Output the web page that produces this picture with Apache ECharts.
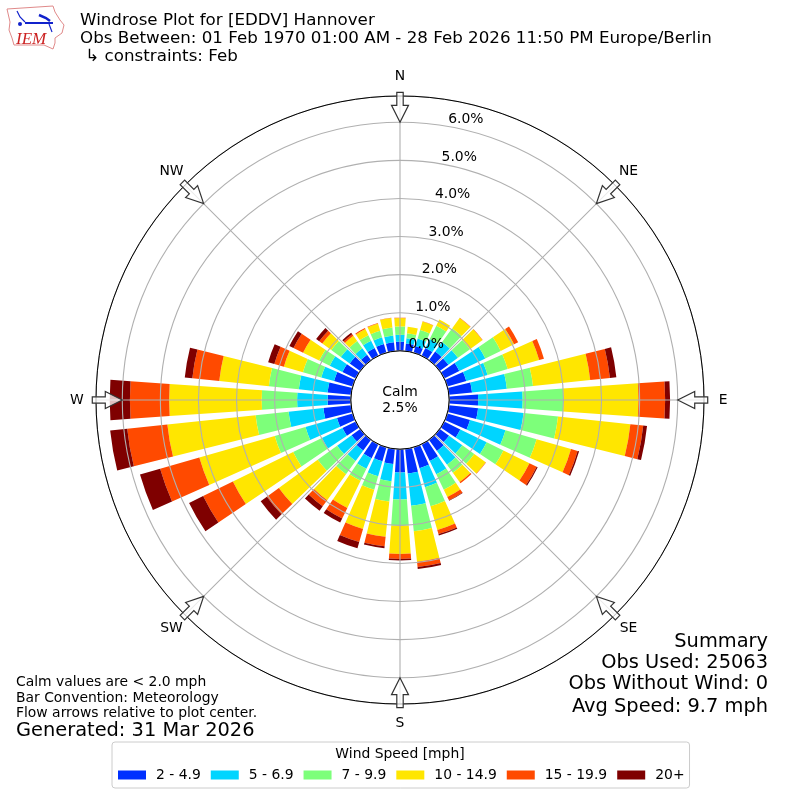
<!DOCTYPE html>
<html><head><meta charset="utf-8">
<style>html,body{margin:0;padding:0;background:#fff}#c{width:800px;height:800px}</style>
<script src="https://cdn.jsdelivr.net/npm/echarts@6/dist/echarts.min.js"></script>
</head><body><div id="c"></div>
<script>
const directions = ['0','10','20','30','40','50','60','70','80','90','100','110','120','130','140','150','160','170','180','190','200','210','220','230','240','250','260','270','280','290','300','310','320','330','340','350'];
const speedBins = ['2 - 4.9','5 - 6.9','7 - 9.9','10 - 14.9','15 - 19.9','20+'];
const binColors = ['#0030ff','#00d5ff','#7dff7a','#ffe600','#ff4a00','#7f0000'];
const bin1 = [.24,.20,.18,.23,.28,.28,.44,.52,.61,.76,.77,.62,.47,.30,.36,.49,.57,.65,.61,.40,.38,.41,.35,.28,.39,.43,.73,.61,.62,.51,.39,.34,.18,.23,.24,.23];
const bin2 = [.18,.14,.21,.26,.31,.31,.76,.58,.92,1.17,1.20,.97,.77,.43,.45,.39,.52,.85,.71,.45,.41,.31,.34,.47,.60,.86,.92,.80,.76,.35,.37,.29,.21,.21,.18,.18];
const bin3 = [.22,.13,.23,.39,.45,.39,.45,.55,.69,1.07,.91,.85,.49,.39,.26,.45,.52,.67,.69,.54,.37,.35,.43,.63,.84,.84,.87,.93,.79,.50,.31,.31,.23,.16,.18,.21];
const bin4 = [.22,.17,.23,.18,.33,.40,.39,.86,1.51,1.97,1.91,.94,.76,.37,.30,.21,.65,.81,.74,.93,1.07,.79,.84,1.26,1.76,2.06,2.33,2.43,1.31,.52,.47,.29,.17,.18,.20,.25];
const bin5 = [.01,0,.01,0,.01,.01,.12,.13,.52,.70,.34,.18,.21,.01,.04,.10,.11,.14,.13,.25,.36,.31,.20,.39,.87,1.07,1.06,1.03,.71,.26,.28,.10,.05,.03,.01,.01];
const bin6 = [0,0,0,0,0,0,0,0,.17,.13,.10,.04,.03,0,0,.01,.04,.05,.04,.05,.17,.12,.14,.20,.41,.55,.45,.53,.20,.17,.12,.10,.05,0,0,0];
const binValues = [bin1,bin2,bin3,bin4,bin5,bin6];
const compassNames = ['N','NE','E','SE','S','SW','W','NW'];
const arrowAngles = [0,45,90,135,180,225,270,315];
const radialTicks = [0,1,2,3,4,5,6];
const titleLines = ['Windrose Plot for [EDDV] Hannover','Obs Between: 01 Feb 1970 01:00 AM - 28 Feb 2026 11:50 PM Europe/Berlin',' \u21b3 constraints: Feb'];
const noteLines = ['Calm values are < 2.0 mph','Bar Convention: Meteorology','Flow arrows relative to plot center.'];
const generated = 'Generated: 31 Mar 2026';
const summaryLines = ['Summary','Obs Used: 25063','Obs Without Wind: 0','Avg Speed: 9.7 mph'];
const calmText = 'Calm\n2.5%';
const legendTitle = 'Wind Speed [mph]';

const FF = '"DejaVu Sans"';
const C = ['400','400'], RAD = [49.2, 304], RMAX = 6.69;
const txt = (x,y,s,size,align) => ({type:'text',x,y,z:20,style:{text:s,fontFamily:FF,fontSize:size,fill:'#000',align:align||'left',verticalAlign:'middle'}});
const graphics = [];
[21,39,57].forEach((y,i)=>graphics.push(txt(80,y,titleLines[i],16.7)));
[682,698,713].forEach((y,i)=>graphics.push(txt(16,y,noteLines[i],13.9)));
graphics.push(txt(16,731,generated,19.4));
[641.5,662.5,683.5,706.5].forEach((y,i)=>graphics.push(txt(768,y,summaryLines[i],19.4,'right')));
graphics.push(txt(400,392,calmText.split('\n')[0],13.9,'center'));
graphics.push(txt(400,408,calmText.split('\n')[1],13.9,'center'));
graphics.push(txt(400,754,legendTitle,13.9,'center'));
// IEM logo
const navy='#1122cc';
graphics.push({type:'polyline',z:20,shape:{points:[[7,9],[53,6],[55,12],[60,20],[64,25],[62,33],[55,38],[55,43],[53,49],[44,45],[14,45],[12,38],[9,30],[10,22],[7,9]]},style:{fill:'none',stroke:'#e08a8a',lineWidth:1}});
graphics.push({type:'polyline',z:20,shape:{points:[[25,23],[53,23]]},style:{fill:'none',stroke:navy,lineWidth:2}});
graphics.push({type:'polyline',z:20,shape:{points:[[39,15],[46,18],[50,21]]},style:{fill:'none',stroke:navy,lineWidth:2.5}});
graphics.push({type:'polyline',z:20,shape:{points:[[17,11],[20,17],[25,22]]},style:{fill:'none',stroke:navy,lineWidth:1.2}});
graphics.push({type:'polyline',z:20,shape:{points:[[49,24],[52,32]]},style:{fill:'none',stroke:navy,lineWidth:1.2}});
graphics.push({type:'circle',z:20,shape:{cx:20,cy:24,r:2},style:{fill:navy}});
graphics.push({type:'text',x:16,y:31,z:20,style:{text:'IEM',fontFamily:'"Liberation Serif"',fontStyle:'italic',fontSize:17,fill:'#cc2222'}});

const barSeries = speedBins.map((name,i)=>({
  type:'bar',name,coordinateSystem:'polar',polarIndex:0,stack:'rose',
  data:binValues[i],barWidth:'80%',z:2,itemStyle:{color:binColors[i]}
}));
const arrowSeries = {
  type:'custom',coordinateSystem:'polar',polarIndex:1,z:8,silent:true,clip:false,
  data:arrowAngles.map(a=>[6,a]),
  encode:{radius:0,angle:1},
  renderItem(params,api){
    const tip = api.coord([api.value(0),api.value(1)]);
    const ang = api.value(1)*Math.PI/180;
    const ux = Math.sin(ang), uy = -Math.cos(ang), px = -uy, py = ux;
    const L=30, H=17, hw=8.5, sw=3.2;
    const pt=(a,b)=>[tip[0]+ux*a+px*b, tip[1]+uy*a+py*b];
    return {type:'group',children:[
      {type:'polygon',shape:{points:[pt(0,0),pt(H,hw),pt(H,sw),pt(L,sw),pt(L,-sw),pt(H,-sw),pt(H,-hw)]},
        style:{fill:'rgba(255,255,255,0.75)',stroke:'#333',lineWidth:1.2}},
      {type:'text',x:pt(45.5,0)[0],y:pt(45.5,0)[1],
        style:{text:compassNames[params.dataIndex],fontFamily:FF,fontSize:13.9,fill:'#000',align:'center',verticalAlign:'middle'}}
    ]};
  }
};
const option = {
  animation:false,
  backgroundColor:'#fff',
  textStyle:{fontFamily:FF},
  polar:[{center:C,radius:RAD},{center:C,radius:RAD},{center:C,radius:RAD}],
  angleAxis:[
    {polarIndex:0,type:'category',data:directions,startAngle:95,boundaryGap:true,axisLine:{show:false},axisTick:{show:false},axisLabel:{show:false},splitLine:{show:false}},
    {polarIndex:1,type:'value',min:0,max:360,interval:45,startAngle:90,z:6,
      axisLine:{show:true,lineStyle:{color:'#000',width:1}},axisTick:{show:false},
      axisLabel:{show:false},
      splitLine:{show:true,lineStyle:{color:'#b0b0b0',width:1.1}}},
    {polarIndex:2,type:'value',min:0,max:360,startAngle:80,show:false}
  ],
  radiusAxis:[
    {polarIndex:0,type:'value',min:0,max:RMAX,show:false},
    {polarIndex:1,type:'value',min:0,max:RMAX,interval:1,z:5,axisLine:{show:false},axisTick:{show:false},axisLabel:{show:false},splitLine:{show:true,lineStyle:{color:'#b0b0b0',width:1.1}}},
    {polarIndex:2,type:'value',min:0,max:RMAX,interval:1,z:7,axisLine:{show:false},axisTick:{show:false},splitLine:{show:false},
      axisLabel:{show:true,showMaxLabel:false,margin:0,inside:false,fontSize:13.9,fontFamily:FF,color:'#000',align:'left',verticalAlign:'bottom',
        formatter:v=>radialTicks.includes(v)?v.toFixed(1)+'%':''}}
  ],
  legend:{left:112,top:742,orient:'horizontal',selectedMode:false,icon:'rect',itemWidth:28,itemHeight:9,itemGap:10,
    padding:[26,5,6,6],borderColor:'#ccc',borderWidth:1,borderRadius:3,data:speedBins,
    textStyle:{fontFamily:FF,fontSize:13.9,color:'#000',padding:[0,0,0,5]}},
  series:[...barSeries,arrowSeries],
  graphic:graphics
};
const chart = echarts.init(document.getElementById('c'),null,{renderer:'canvas'});
chart.setOption(option);
</script></body></html>
